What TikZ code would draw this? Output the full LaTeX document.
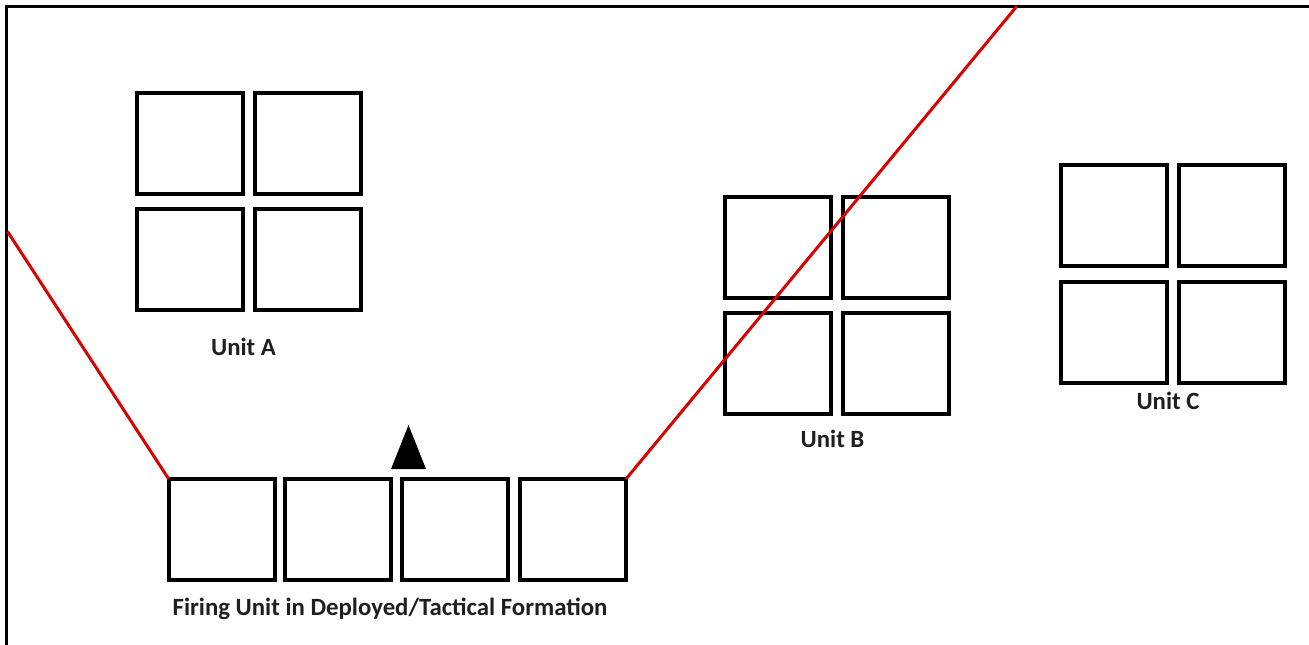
\documentclass[tikz,border=0pt]{standalone}
\usepackage{fontspec}
\setmainfont{Carlito}
\begin{document}
\begin{tikzpicture}[x=1pt,y=-1pt,
  unitbox/.style={draw=black,line width=4pt,minimum width=106pt,minimum height=101pt,inner sep=0pt,outer sep=0pt},
  unitlabel/.style={font=\bfseries\fontsize{24.8}{28}\selectfont,inner sep=0pt,text=black!88},
  fireline/.style={draw=red!85!black,line width=3pt}]
\useasboundingbox (0,0) rectangle (1309,645);
% frame along the top and left edges
\draw[line width=3pt] (1309,6) -- (6,6) -- (6,645);
% Unit A
\node[unitbox] (a1) at (189.8,143.5) {};
\node[unitbox] (a2) at (307.7,143.5) {};
\node[unitbox] (a3) at (189.8,259.5) {};
\node[unitbox] (a4) at (307.7,259.5) {};
\node[unitlabel] (la) at (243.5,347) {Unit A};
% Unit B
\node[unitbox] (b1) at (778,247.5) {};
\node[unitbox] (b2) at (896.3,247.5) {};
\node[unitbox] (b3) at (778,363.8) {};
\node[unitbox] (b4) at (896.3,363.8) {};
\node[unitlabel] (lb) at (832.5,439) {Unit B};
% Unit C
\node[unitbox] (c1) at (1113.8,215.8) {};
\node[unitbox] (c2) at (1231.6,215.8) {};
\node[unitbox] (c3) at (1113.8,332.2) {};
\node[unitbox] (c4) at (1231.6,332.2) {};
\node[unitlabel] (lc) at (1168,401) {Unit C};
% Firing unit in line
\node[unitbox] (f1) at (221.7,529.5) {};
\node[unitbox] (f2) at (338,529.5) {};
\node[unitbox] (f3) at (454.7,529.5) {};
\node[unitbox] (f4) at (573,529.5) {};
\node[unitlabel] (lf) at (390,609) {Firing Unit in Deployed/Tactical Formation};
% direction marker
\fill[black] (391,469) -- (408.5,425) -- (426,469) -- cycle;
% limits of the field of fire
\coordinate (leftend) at (7.5,231.5);
\coordinate (rightend) at (1017,6);
\draw[fireline] (f1.north west) -- (leftend);
\draw[fireline] (f4.north east) -- (rightend);
\end{tikzpicture}
\end{document}
